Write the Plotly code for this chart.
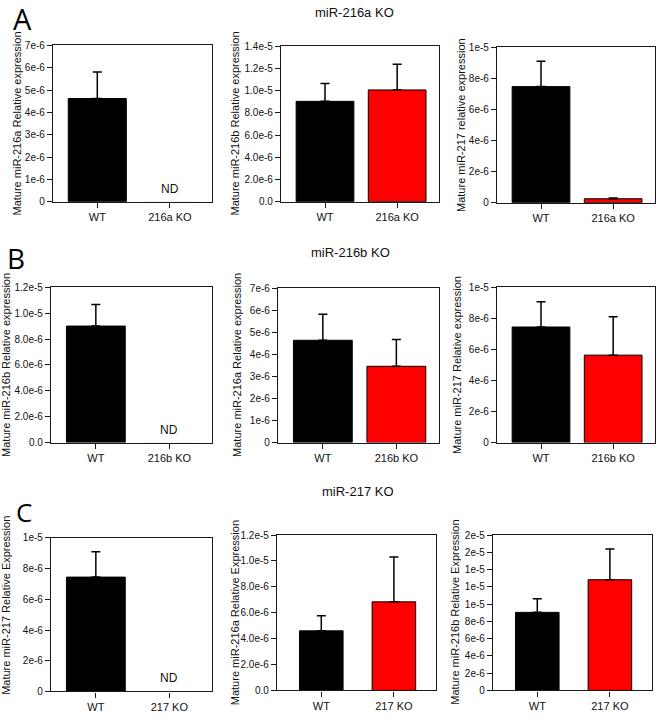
import plotly.graph_objects as go

# ---------------- data ----------------
row_categories = [["WT", "216a KO"], ["WT", "216b KO"], ["WT", "217 KO"]]
row_titles = ["miR-216a KO", "miR-216b KO", "miR-217 KO"]
panel_letters = ["A", "B", "C"]

y_titles = [
    "Mature miR-216a Relative expression", "Mature miR-216b Relative expression", "Mature miR-217 relative expression",
    "Mature miR-216b Relative expression", "Mature miR-216a Relative expression", "Mature miR-217 Relative expression",
    "Mature miR-217 Relative Expression", "Mature miR-216a Relative Expression", "Mature miR-216b Relative Expression",
]

wt_means = [4.62e-6, 9.04e-6, 7.47e-6, 9.0e-6, 4.64e-6, 7.44e-6, 7.45e-6, 4.60e-6, 9.04e-6]
wt_sem = [1.19e-6, 1.62e-6, 1.64e-6, 1.66e-6, 1.18e-6, 1.63e-6, 1.65e-6, 1.16e-6, 1.59e-6]
ko_means = [None, 1.007e-5, 2.5e-7, None, 3.46e-6, 5.63e-6, None, 6.84e-6, 1.282e-5]
ko_sem = [None, 2.31e-6, 0.5e-7, None, 1.22e-6, 2.47e-6, None, 3.46e-6, 3.55e-6]

y_tick_step = [1e-6, 2e-6, 2e-6, 2e-6, 1e-6, 2e-6, 2e-6, 2e-6, 2e-6]
y_tick_texts = [
    ["0", "1e-6", "2e-6", "3e-6", "4e-6", "5e-6", "6e-6", "7e-6"],
    ["0.0", "2.0e-6", "4.0e-6", "6.0e-6", "8.0e-6", "1.0e-5", "1.2e-5", "1.4e-5"],
    ["0", "2e-6", "4e-6", "6e-6", "8e-6", "1e-5"],
    ["0.0", "2.0e-6", "4.0e-6", "6.0e-6", "8.0e-6", "1.0e-5", "1.2e-5"],
    ["0", "1e-6", "2e-6", "3e-6", "4e-6", "5e-6", "6e-6", "7e-6"],
    ["0", "2e-6", "4e-6", "6e-6", "8e-6", "1e-5"],
    ["0", "2e-6", "4e-6", "6e-6", "8e-6", "1e-5"],
    ["0.0", "2.0e-6", "4.0e-6", "6.0e-6", "8.0e-6", "1.0e-5", "1.2e-5"],
    ["0", "2e-6", "4e-6", "6e-6", "8e-6", "1e-5", "1e-5", "1e-5", "2e-5", "2e-5"],
]
nd_label = "ND"

# ---------------- layout geometry (pixels) ----------------
W, H = 657, 720
boxes = [
    (53, 212, 40, 199), (281, 439, 41, 199), (497, 655, 42, 200),
    (51, 212, 286, 444), (278, 439, 287, 444), (497, 655, 286, 444),
    (51, 212, 541, 697), (277, 436, 538, 696), (493, 652, 538, 696),
]
ytitle_x = [17, 234.5, 461, 6, 237.5, 457, 6, 234.5, 455]
ytitle_y = [None, None, None, None, None, None, 610, None, None]
bar_widths = [0.8, 0.8, 0.8, 0.8, 0.8, 0.8, 0.8, 0.6, 0.6]
title_pos = [(354.7, 7), (350, 251), (357.5, 494)]
letter_pos = [(22, 13, 29), (16, 256, 28), (24, 515, 26)]

FONT = "Liberation Sans, Arial, sans-serif"
LINE = "#1a1a1a"

fig = go.Figure()
annotations = []
layout_axes = {}

for i in range(9):
    row = i // 3
    cats = row_categories[row]
    xa = "x" if i == 0 else f"x{i+1}"
    ya = "y" if i == 0 else f"y{i+1}"
    x0, x1, y0, y1 = boxes[i]

    fig.add_trace(go.Bar(
        x=[cats[0]], y=[wt_means[i]], width=bar_widths[i],
        marker=dict(color="#000000", line=dict(color="#000000", width=1)),
        error_y=dict(type="data", array=[wt_sem[i]], arrayminus=[0], symmetric=False,
                     color="#000000", thickness=1.5, width=4.5),
        xaxis=xa, yaxis=ya, showlegend=False, hoverinfo="skip",
    ))
    if ko_means[i] is not None:
        fig.add_trace(go.Bar(
            x=[cats[1]], y=[ko_means[i]], width=bar_widths[i],
            marker=dict(color="#ff0000", line=dict(color="#000000", width=1)),
            error_y=dict(type="data", array=[ko_sem[i]], arrayminus=[0], symmetric=False,
                         color="#000000", thickness=1.5, width=4.5),
            xaxis=xa, yaxis=ya, showlegend=False, hoverinfo="skip",
        ))
    else:
        fig.add_trace(go.Bar(x=[cats[1]], y=[0], width=bar_widths[i], marker=dict(color="rgba(0,0,0,0)"),
                             xaxis=xa, yaxis=ya, showlegend=False, hoverinfo="skip"))
        annotations.append(dict(
            text=nd_label, xref=xa, yref=f"{ya} domain", x=cats[1], y=0,
            yanchor="middle", xanchor="center", yshift=13, showarrow=False,
            font=dict(family=FONT, size=12, color="#111"),
        ))

    texts = y_tick_texts[i]
    step = y_tick_step[i]
    tickvals = [k * step for k in range(len(texts))]
    ymax = tickvals[-1]

    xkey = "xaxis" if i == 0 else f"xaxis{i+1}"
    ykey = "yaxis" if i == 0 else f"yaxis{i+1}"
    layout_axes[xkey] = dict(
        domain=[x0 / W, x1 / W], anchor=ya, type="category",
        categoryorder="array", categoryarray=cats, range=[-0.61, 1.58],
        showline=True, mirror=True, linecolor=LINE, linewidth=1.3,
        ticks="outside", ticklen=5, tickwidth=1.2, tickcolor=LINE,
        showgrid=False, zeroline=False, fixedrange=True,
        tickfont=dict(family=FONT, size=11, color="#111"),
    )
    layout_axes[ykey] = dict(
        domain=[1 - y1 / H, 1 - y0 / H], anchor=xa, range=[0, ymax],
        tickvals=tickvals, ticktext=texts,
        showline=True, mirror=True, linecolor=LINE, linewidth=1.3,
        ticks="outside", ticklen=5, tickwidth=1.2, tickcolor=LINE,
        showgrid=False, zeroline=False, fixedrange=True,
        tickfont=dict(family=FONT, size=10, color="#111"),
    )

    yc = ytitle_y[i] if ytitle_y[i] is not None else (y0 + y1) / 2
    annotations.append(dict(
        text=y_titles[i], xref="paper", yref="paper",
        x=ytitle_x[i] / W, y=1 - yc / H, xanchor="center", yanchor="middle",
        textangle=-90, showarrow=False,
        font=dict(family=FONT, size=11, color="#111"),
    ))

for r in range(3):
    tx, ty = title_pos[r]
    annotations.append(dict(
        text=row_titles[r], xref="paper", yref="paper", x=tx / W, y=1 - ty / H,
        xanchor="center", yanchor="middle", showarrow=False,
        font=dict(family=FONT, size=13, color="#111"),
    ))
    lx, ly, ls = letter_pos[r]
    annotations.append(dict(
        text=panel_letters[r], xref="paper", yref="paper", x=lx / W, y=1 - ly / H,
        xanchor="center", yanchor="middle", showarrow=False,
        font=dict(family="Open Sans, sans-serif", size=ls, color="#000"),
    ))

fig.update_layout(
    width=W, height=H, margin=dict(l=0, r=0, t=0, b=0),
    paper_bgcolor="white", plot_bgcolor="white",
    barmode="overlay", showlegend=False,
    annotations=annotations, **layout_axes,
)

fig.write_html(
    "out.html",
    config={"displayModeBar": False},
    post_script="document.body.style.margin='0';document.body.style.overflow='hidden';",
)
